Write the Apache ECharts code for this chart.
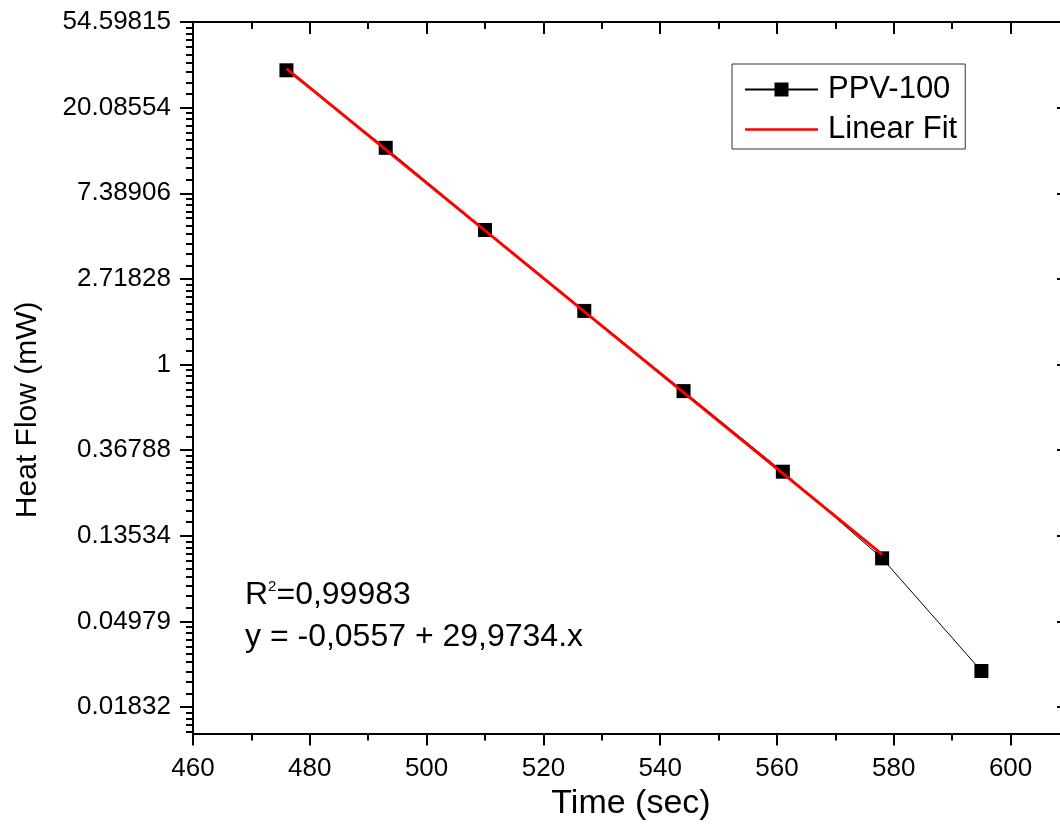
<!DOCTYPE html>
<html>
<head>
<meta charset="utf-8">
<script src="https://cdn.jsdelivr.net/npm/echarts@6/dist/echarts.min.js"></script>
<style>
  html, body { margin: 0; padding: 0; background: #fff; overflow: hidden; }
  #chart { width: 1060px; height: 837px; }
</style>
</head>
<body>
<div id="chart"></div>
<script>
// ---- data ----
const timeSec = [476, 493, 510, 527, 544, 561, 578, 595];
const heatFlow = [31.06, 12.56, 4.81, 1.87, 0.733, 0.286, 0.104, 0.0279];
const fitTime = [476, 578];
const fitHeat = [31.7, 0.109];

const xTickValues = [460, 480, 500, 520, 540, 560, 580, 600];
const xMinorTickValues = [470, 490, 510, 530, 550, 570, 590];
const yTickValues = [54.59815, 20.08554, 7.38906, 2.71828, 1, 0.36788, 0.13534, 0.04979, 0.01832];
const yTickLabels = ['54.59815', '20.08554', '7.38906', '2.71828', '1', '0.36788', '0.13534', '0.04979', '0.01832'];
const yMinorBase = [54.59815, 20.08554, 7.38906, 2.71828, 1, 0.36788, 0.13534, 0.04979, 0.01832, 0.00674];

const X_MIN = 460, X_MAX = 610;
const Y_MIN = 0.01343, Y_MAX = 54.59815;

// ---- helpers ----
const ln = Math.log;
const yMinLn = ln(Y_MIN), yMaxLn = ln(Y_MAX);
const yMajorLn = yTickValues.map(ln);
const yMinorLn = [];
for (let i = 0; i < yMinorBase.length - 1; i++) {
  const hi = yMinorBase[i], lo = yMinorBase[i + 1];
  for (let k = 1; k < 10; k++) {
    const v = ln(lo + (hi - lo) * k / 10);
    if (v > yMinLn && v < yMaxLn) yMinorLn.push(v);
  }
}
function yLabel(v) {
  let best = 0;
  for (let i = 1; i < yMajorLn.length; i++) {
    if (Math.abs(yMajorLn[i] - v) < Math.abs(yMajorLn[best] - v)) best = i;
  }
  return yTickLabels[best];
}

const FONT = '"Liberation Sans", Arial, Helvetica, sans-serif';
function LS() { return { color: '#000', width: 2 }; }

function xAxisCfg(opts) {
  return Object.assign({
    type: 'value', min: X_MIN, max: X_MAX,
    axisLine: { show: false, onZero: false },
    axisLabel: { show: false },
    splitLine: { show: false },
    splitArea: { show: false },
    minorTick: { show: false },
    minorSplitLine: { show: false },
    axisTick: { show: false }
  }, opts);
}
function yAxisCfg(opts) {
  return Object.assign({
    type: 'value', min: yMinLn, max: yMaxLn,
    axisLine: { show: false, onZero: false },
    axisLabel: { show: false },
    splitLine: { show: false },
    splitArea: { show: false },
    minorTick: { show: false },
    minorSplitLine: { show: false },
    axisTick: { show: false }
  }, opts);
}

const chart = echarts.init(document.getElementById('chart'), null, { renderer: 'canvas' });

const option = {
  animation: false,
  backgroundColor: '#fff',
  grid: { show: false, left: 193, top: 22, width: 876, height: 711.6, outerBoundsMode: 'none', containLabel: false },
  xAxis: [
    xAxisCfg({
      position: 'bottom',
      name: 'Time (sec)', nameLocation: 'middle', nameGap: 41,
      nameTextStyle: { fontFamily: FONT, fontSize: 34, color: '#000' },
      axisLine: { show: true, onZero: false, lineStyle: LS() },
      axisTick: { show: true, inside: false, length: 12, lineStyle: LS(), customValues: xTickValues },
      axisLabel: { show: true, margin: 22, fontFamily: FONT, fontSize: 26, color: '#000', customValues: xTickValues }
    }),
    xAxisCfg({
      position: 'bottom',
      axisTick: { show: true, inside: false, length: 7, lineStyle: LS(), customValues: xMinorTickValues }
    }),
    xAxisCfg({
      position: 'top',
      axisLine: { show: true, onZero: false, lineStyle: LS() },
      axisTick: { show: true, inside: true, length: 12, lineStyle: LS(), customValues: xTickValues }
    }),
    xAxisCfg({
      position: 'top',
      axisTick: { show: true, inside: true, length: 7, lineStyle: LS(), customValues: xMinorTickValues }
    })
  ],
  yAxis: [
    yAxisCfg({
      position: 'left',
      name: 'Heat Flow (mW)', nameLocation: 'middle', nameGap: 150,
      nameTextStyle: { fontFamily: FONT, fontSize: 30, color: '#000', padding: [0, 64, 0, 0] },
      axisLine: { show: true, onZero: false, lineStyle: LS() },
      axisTick: { show: true, inside: false, length: 13, lineStyle: LS(), customValues: yMajorLn },
      axisLabel: { show: true, margin: 22, fontFamily: FONT, fontSize: 26, color: '#000',
                   customValues: yMajorLn, formatter: yLabel }
    }),
    yAxisCfg({
      position: 'left',
      axisTick: { show: true, inside: false, length: 7, lineStyle: LS(), customValues: yMinorLn }
    }),
    yAxisCfg({
      position: 'right',
      axisLine: { show: false, onZero: false },
      axisTick: { show: true, inside: true, length: 12, lineStyle: LS(), customValues: yMajorLn }
    })
  ],
  legend: {
    orient: 'vertical',
    left: 732, top: 64,
    padding: [10, 8, 4, 12],
    itemGap: 9,
    itemWidth: 73, itemHeight: 17.5,
    borderColor: '#333', borderWidth: 1,
    backgroundColor: '#fff',
    textStyle: { fontFamily: FONT, fontSize: 31, color: '#000', padding: [0, 0, 0, 5] },
    data: [
      { name: 'PPV-100' },
      { name: 'Linear Fit', icon: 'path://M0,0L73,0L73,2.5L0,2.5Z' }
    ]
  },
  graphic: [
    {
      type: 'text', left: 245, top: 579,
      style: {
        text: '{a|R}{s|2}{a|=0,99983}',
        rich: {
          a: { fontFamily: FONT, fontSize: 32, fill: '#000', lineHeight: 32, verticalAlign: 'bottom' },
          s: { fontFamily: FONT, fontSize: 15, fill: '#000', lineHeight: 15, verticalAlign: 'top' }
        },
        fill: '#000'
      }
    },
    {
      type: 'text', left: 245, top: 621,
      style: { text: 'y = -0,0557 + 29,9734.x', font: '32px ' + FONT, fill: '#000' }
    }
  ],
  series: [
    {
      name: 'PPV-100', type: 'line',
      xAxisIndex: 0, yAxisIndex: 0,
      data: timeSec.map((t, i) => [t, ln(heatFlow[i])]),
      symbol: 'rect', symbolSize: 14, showAllSymbol: true,
      itemStyle: { color: '#000' },
      lineStyle: { color: '#000', width: 1 },
      z: 2
    },
    {
      name: 'Linear Fit', type: 'line',
      xAxisIndex: 0, yAxisIndex: 0,
      data: fitTime.map((t, i) => [t, ln(fitHeat[i])]),
      symbol: 'none',
      itemStyle: { color: '#ff0000' },
      lineStyle: { color: '#ff0000', width: 3 },
      z: 3
    }
  ]
};
chart.setOption(option);
</script>
</body>
</html>
